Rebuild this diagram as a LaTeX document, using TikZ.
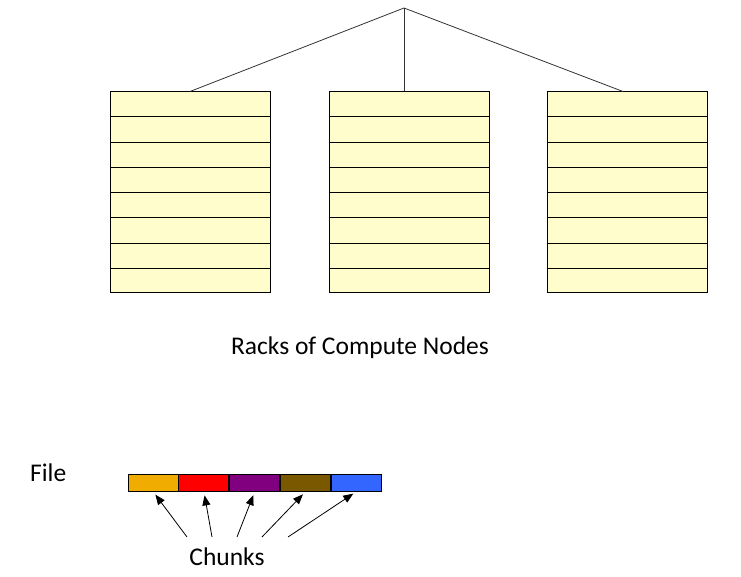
\documentclass[tikz,border=0pt]{standalone}
\usepackage{fontspec}
\setmainfont{Carlito}
\usepackage{tikz}
\usetikzlibrary{arrows.meta,positioning,calc}
\definecolor{rackfill}{HTML}{FFFDCC}
\definecolor{chunkA}{HTML}{F0AC00}
\definecolor{chunkB}{HTML}{FF0000}
\definecolor{chunkC}{HTML}{800080}
\definecolor{chunkD}{HTML}{7A5800}
\definecolor{chunkE}{HTML}{3366FF}
\tikzset{
  rack/.style={draw=black,line width=1pt,fill=rackfill,minimum width=160pt,minimum height=201pt,inner sep=0pt},
  chunk/.style={draw=black,line width=0.9pt,minimum width=50pt,minimum height=17pt,inner sep=0pt,fill=#1},
  label/.style={font=\fontsize{25.5}{30}\selectfont,inner sep=0pt},
  link/.style={draw=black!80,line width=0.8pt},
  pointer/.style={-{Triangle[length=10pt,width=8pt]},line width=0.8pt,shorten >=4pt}
}
\begin{document}
\begin{tikzpicture}[x=1pt,y=1pt]
\useasboundingbox (0,0) rectangle (741,576);
%Racks
\node[rack] (rackA) at (190,383.5) {};
\node[rack] (rackB) at (409,383.5) {};
\node[rack] (rackC) at (627,383.5) {};
\foreach \r in {rackA,rackB,rackC}{
  \foreach \i in {1,...,7}{
    \draw[line width=0.8pt] ($(\r.north west)!\i/8!(\r.south west)$) -- ($(\r.north east)!\i/8!(\r.south east)$);
  }
}
\coordinate (top) at (404,568);
\draw[link] (top) -- (rackA.north);
\draw[link] (top) -- (top |- rackB.north);
\draw[link] (top) -- ($(rackC.north)+(-4,0)$);
\node[label] (racks) at (360,228) {Racks of Compute Nodes};
%File aus Chunks
\node[label,anchor=west] (file) at (30,103) {File};
\node[chunk=chunkA] (c1) at (153,93.5) {};
\node[chunk=chunkB,right=0pt of c1] (c2) {};
\node[chunk=chunkC,right=0pt of c2] (c3) {};
\node[chunk=chunkD,right=0pt of c3] (c4) {};
\node[chunk=chunkE,right=0pt of c4] (c5) {};
\node[label] (chunks) at (227,19) {Chunks};
\foreach \n/\x in {1/187,2/212,3/237,4/262,5/288}{
  \coordinate (t\n) at (\x,39);
  \draw[pointer] (t\n) -- (c\n.south);
}
\end{tikzpicture}
\end{document}
